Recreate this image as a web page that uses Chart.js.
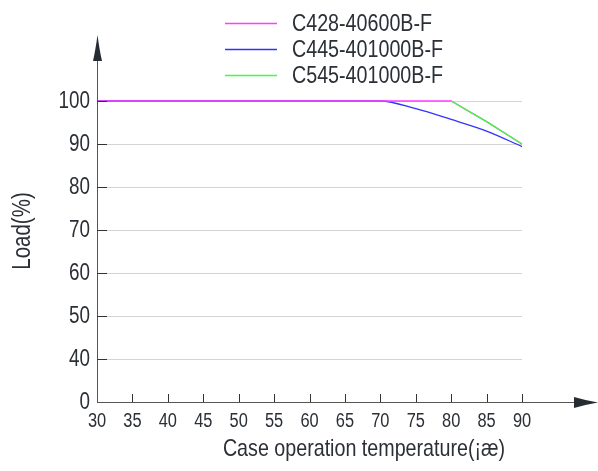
<!DOCTYPE html>
<html>
<head>
<meta charset="utf-8">
<script src="https://cdn.jsdelivr.net/npm/chart.js@4/dist/chart.umd.min.js"></script>
<style>
  html, body { margin: 0; padding: 0; background: #fff; }
  #wrap { width: 598px; height: 471px; }
</style>
</head>
<body>
<div id="wrap"><canvas id="loadChart" width="598" height="471"></canvas></div>
<script>
// derating data
const temps = [30, 35, 40, 45, 50, 55, 60, 65, 70, 75, 80, 85, 90];
const loadC428 = [100, 100, 100, 100, 100, 100, 100, 100, 100, 100, 100, 95.2, 90.0];
const loadC445 = [100, 100, 100, 100, 100, 100, 100, 100, 100, 98.2, 95.7, 93.0, 89.4];
const loadC545 = [null, null, null, null, null, null, null, null, null, null, 100, 95.2, 90.0];
const seriesNames = ['C428-40600B-F', 'C445-401000B-F', 'C545-401000B-F'];
const seriesColors = ['#ff3cff', '#3232ff', '#3cff3c'];
const yTicks = [30, 40, 50, 60, 70, 80, 90, 100]; // 30 is shown as "0" (broken axis)

const FONT = '"Liberation Sans", Arial, sans-serif';
const TEXT = '#2b2f36';
const NARROW = 0.82; // squeeze to look like Arial Narrow

const toPoints = arr => temps.map((t, i) => ({ x: t, y: arr[i] }));

function narrowText(ctx, txt, x, y, size, align) {
  ctx.save();
  ctx.font = size + 'px ' + FONT;
  ctx.textAlign = align;
  ctx.textBaseline = 'middle';
  ctx.translate(x, y);
  ctx.scale(NARROW, 1);
  ctx.fillText(txt, 0, 0);
  ctx.restore();
}

// axis arrows, tick marks, labels, titles and legend
const decor = {
  id: 'decor',
  afterDraw(chart) {
    const { ctx, chartArea: a, scales: { x, y } } = chart;
    ctx.save();

    // axis lines
    ctx.strokeStyle = '#555';
    ctx.lineWidth = 1;
    ctx.beginPath();
    ctx.moveTo(a.left + 0.5, a.bottom);
    ctx.lineTo(a.left + 0.5, 55);
    ctx.moveTo(a.left, a.bottom + 0.5);
    ctx.lineTo(580, a.bottom + 0.5);
    ctx.stroke();

    // tick marks
    ctx.strokeStyle = '#333';
    ctx.beginPath();
    y.ticks.forEach(t => {
      if (t.value === 30) return;
      const py = Math.round(y.getPixelForValue(t.value)) + 0.5;
      ctx.moveTo(a.left, py);
      ctx.lineTo(a.left + 10, py);
    });
    x.ticks.forEach(t => {
      if (t.value === 30) return;
      const px = Math.round(x.getPixelForValue(t.value)) + 0.5;
      ctx.moveTo(px, a.bottom);
      ctx.lineTo(px, a.bottom - 8);
    });
    ctx.stroke();

    // arrow heads
    ctx.fillStyle = '#262c33';
    const ax = a.left + 0.5;
    ctx.beginPath();
    ctx.moveTo(ax, 35);
    ctx.quadraticCurveTo(ax + 2, 50, ax + 4.5, 61);
    ctx.lineTo(ax - 4.5, 61);
    ctx.quadraticCurveTo(ax - 2, 50, ax, 35);
    ctx.fill();
    const ay = a.bottom + 0.5;
    ctx.beginPath();
    ctx.moveTo(598, ay);
    ctx.quadraticCurveTo(586, ay - 2, 574, ay - 5.5);
    ctx.lineTo(574, ay + 5.5);
    ctx.quadraticCurveTo(586, ay + 2, 598, ay);
    ctx.fill();

    // tick labels
    ctx.fillStyle = TEXT;
    y.ticks.forEach(t => {
      narrowText(ctx, t.label, a.left - 7, y.getPixelForValue(t.value) + 1, 23, 'right');
    });
    x.ticks.forEach(t => {
      narrowText(ctx, t.label, x.getPixelForValue(t.value), a.bottom + 19, 20, 'center');
    });

    // axis titles
    narrowText(ctx, 'Case operation temperature(¡æ)', 364, 449, 24, 'center');
    ctx.save();
    ctx.translate(23, 231);
    ctx.rotate(-Math.PI / 2);
    narrowText(ctx, 'Load(%)', 0, 0, 25, 'center');
    ctx.restore();

    // legend
    ctx.lineWidth = 1.4;
    chart.data.datasets.forEach((ds, i) => {
      const ly = 23.5 + i * 26;
      ctx.strokeStyle = ds.borderColor;
      ctx.beginPath();
      ctx.moveTo(225, ly);
      ctx.lineTo(277, ly);
      ctx.stroke();
      narrowText(ctx, ds.label, 292, ly + 1, 24, 'left');
    });

    ctx.restore();
  }
};

new Chart(document.getElementById('loadChart'), {
  type: 'line',
  data: {
    datasets: [
      { label: seriesNames[0], data: toPoints(loadC428), borderColor: seriesColors[0], order: 1,
        cubicInterpolationMode: 'default', tension: 0 },
      { label: seriesNames[1], data: toPoints(loadC445), borderColor: seriesColors[1], order: 2 },
      { label: seriesNames[2], data: toPoints(loadC545), borderColor: seriesColors[2], order: 0,
        cubicInterpolationMode: 'default', tension: 0 }
    ]
  },
  options: {
    responsive: false,
    animation: false,
    devicePixelRatio: 1,
    layout: { padding: { top: 101, right: 76, left: 0, bottom: 0 } },
    datasets: { line: { clip: 6 } },
    elements: {
      line: { borderWidth: 1.3, cubicInterpolationMode: 'monotone', fill: false },
      point: { radius: 0 }
    },
    plugins: {
      legend: { display: false },
      tooltip: { enabled: false }
    },
    scales: {
      x: {
        type: 'linear',
        min: 30,
        max: 90,
        afterFit: s => { s.height = 69; },
        afterBuildTicks: s => { s.ticks = temps.map(v => ({ value: v })); },
        grid: { display: false, drawTicks: false },
        border: { display: false },
        ticks: { display: false, autoSkip: false }
      },
      y: {
        min: 30,
        max: 100,
        afterFit: s => { s.width = 97; },
        afterBuildTicks: s => { s.ticks = yTicks.map(v => ({ value: v })); },
        grid: {
          drawTicks: false,
          color: c => (c.tick && c.tick.value === 30 ? 'rgba(0,0,0,0)' : '#d4d4d4'),
          lineWidth: 1
        },
        border: { display: false },
        ticks: {
          display: false,
          callback: v => (v === 30 ? '0' : String(v))
        }
      }
    }
  },
  plugins: [decor]
});
</script>
</body>
</html>
